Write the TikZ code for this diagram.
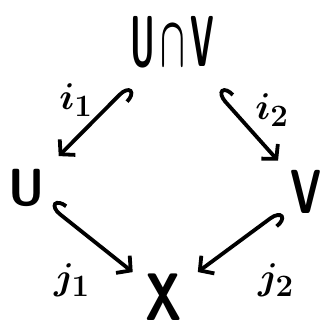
\documentclass[tikz,border=0pt]{standalone}
\usepackage{graphicx}
\usetikzlibrary{arrows.meta}
\begin{document}
\begin{tikzpicture}[x=1pt,y=-1pt,
  obj/.style={inner sep=0pt, font=\sffamily\bfseries\Huge},
  lab/.style={inner sep=0pt, font=\boldmath\Huge},
  inc/.style={line width=3.8pt, line cap=round,
    {Hooks[right,length=12pt,width=24pt,line width=3.8pt]}-{Straight Barb[length=10pt,width=22pt,line width=3.8pt]}}]
\useasboundingbox (0,0) rectangle (322,324);
\node[obj] (UV) at (172,42) {\scalebox{1.3}[2.9]{U\,\boldmath$\cap$\,V}};
\node[obj] (U) at (27,188) {\scalebox{1.9}[2.1]{U}};
\node[obj] (V) at (306,192) {\scalebox{1.7}[2.5]{V}};
\node[obj] (X) at (164,297) {\scalebox{2.0}[2.7]{X}};
\draw[inc, shorten <=62pt, shorten >=45pt] (UV.center) -- (U.center);
\draw[inc, shorten <=68pt, shorten >=42pt] (UV.center) -- (V.center);
\draw[inc, shorten <=30pt, shorten >=40pt] (U.center) -- (X.center);
\draw[inc, shorten <=32pt, shorten >=42pt] (V.center) -- (X.center);
\node[lab] (i1) at (76,100) {\scalebox{1.5}{$i_1$}};
\node[lab] (i2) at (272,110) {\scalebox{1.5}{$i_2$}};
\node[lab] (j1) at (72,280) {\scalebox{1.5}{$j_1$}};
\node[lab] (j2) at (276,280) {\scalebox{1.5}{$j_2$}};
\end{tikzpicture}
\end{document}
